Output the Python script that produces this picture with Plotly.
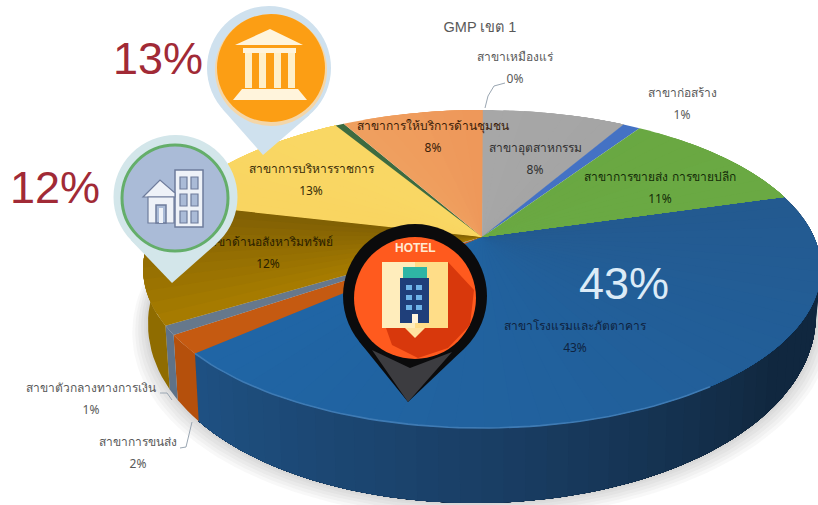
import numpy as np
import plotly.graph_objects as go

# ---------- data ----------
categories = ["สาขาโรงแรมและภัตตาคาร", "สาขาการขนส่ง", "สาขาตัวกลางทางการเงิน",
              "สาขาด้านอสังหาริมทรัพย์", "สาขาการบริหารราชการ", "สาขาเหมืองแร่",
              "สาขาการให้บริการด้านชุมชน", "สาขาอุตสาหกรรม", "สาขาก่อสร้าง",
              "สาขาการขายส่ง การขายปลีก"]
values = [43.0, 1.9, 0.9, 12.4, 12.7, 0.5, 8.2, 8.3, 1.0, 11.2]
percent_labels = ["43%", "2%", "1%", "12%", "13%", "0%", "8%", "8%", "1%", "11%"]
top_start = ["#245A90", "#C55A11", "#66788C", "#A87D00", "#F9D561", "#3D6B40", "#F0A060", "#A8A8A8", "#4472C4", "#6AA842"]
top_end = ["#2066A6", "#C55A11", "#66788C", "#806005", "#FAD865", "#3D6B40", "#EE985A", "#A5A5A5", "#4472C4", "#6AAA44"]
label_colors = ["#0F2340", "#595959", "#595959", "#2A2000", "#3A2E08", "#595959", "#3A2008", "#303030", "#595959", "#142C08"]
label_xy = [(575, 327), (138, 443), (91, 389), (268, 243), (311, 170), (515, 58), (433, 127), (535, 149), (682, 94), (660, 178)]
big_labels = [("13%", 158, 58, "#A12A36"), ("12%", 55, 187, "#A12A36"), ("43%", 624, 283, "#DCEBF7")]
title_text = "GMP เขต 1"

# ---------- projection of the pie ----------
CX, CY, A, B, K = 482, 237, 332, 152.6, 0.201
START = -16.1
W, H = 818, 505


def top(t):
    t = np.radians(t)
    X, Y = np.cos(t), np.sin(t)
    d = 1 - K * Y
    return CX + A * X / d, CY + B * Y / d


def low(t, grow=0.0):
    x, y = top(t)
    r = np.radians(t)
    X, Y = np.cos(r), np.sin(r)
    return x - 5 * X + grow * X, y + 43.5 + 31.5 * Y - 4.5 * X + grow * (0.6 + 0.4 * Y)


def hex2rgb(c):
    return np.array([int(c[i:i + 2], 16) for i in (1, 3, 5)], float)


def mix(c1, c2, f):
    v = hex2rgb(c1) * (1 - f) + hex2rgb(c2) * f
    return "rgb(%d,%d,%d)" % tuple(v)


fig = go.Figure()


def poly(xs, ys, color, lw=0.0):
    fig.add_trace(go.Scatter(x=list(xs), y=list(ys), mode="lines", fill="toself", fillcolor=color,
                             line=dict(color=color, width=lw), hoverinfo="skip", showlegend=False))


total = sum(values)
edges = START + np.concatenate([[0], np.cumsum(values)]) / total * 360

# soft shadow below the body
ts = np.linspace(-5, 200, 120)
for g in (16, 13, 10, 7, 4, 2):
    xs, ys = zip(*[low(t, g) for t in ts])
    poly(list(xs), list(ys), "rgba(90,90,100,0.045)")

# side wall: each strip reaches to the slice end, later strips paint over it
side_stops = {0: ([-20, 40, 90, 140], ["#10263F", "#11283F", "#1A3F66", "#1F5284"]),
              1: ([0, 400], ["#B5500C", "#B5500C"]), 2: ([0, 400], ["#5E7288", "#5E7288"]),
              3: ([0, 400], ["#8F6C00", "#8F6C00"])}
for i in range(4):
    a, b = edges[i], min(edges[i + 1], 200)
    n = max(1, int((b - a) / 3)) if i == 0 else 1
    tt = np.linspace(a, b, n + 1)
    sx, sc = side_stops[i]
    rgb = np.array([hex2rgb(c) for c in sc])
    for j in range(n):
        m = (tt[j] + tt[j + 1]) / 2
        col = "rgb(%d,%d,%d)" % tuple(np.interp(m, sx, rgb[:, k]) for k in range(3))
        arc = np.linspace(tt[j], b, max(2, int((b - tt[j]) / 2) + 2))
        tx, ty = top(arc)
        bot = [low(t) for t in arc[::-1]]
        poly(list(tx) + [q[0] for q in bot], list(ty) + [q[1] for q in bot], col)

# top face
for i in range(len(values)):
    a, b = edges[i], edges[i + 1]
    n = max(1, int((b - a) / 4)) if top_start[i] != top_end[i] else 1
    tt = np.linspace(a, b, n + 1)
    for j in range(n):
        arc = np.linspace(tt[j], b, max(4, int((b - tt[j]) / 2) + 2))
        xs, ys = top(arc)
        col = mix(top_start[i], top_end[i], (j + 0.5) / n)
        poly([CX] + list(xs), [CY] + list(ys), col)

# rim highlight on the first slice
arc = np.linspace(55, edges[1], 60)
xs, ys = top(arc)
fig.add_trace(go.Scatter(x=xs, y=ys, mode="lines", line=dict(color="#3F7BB4", width=1.6),
                         hoverinfo="skip", showlegend=False))

# leader lines
for lx, ly in [([485, 488, 494, 505], [108, 96, 86, 83]), ([160, 167, 172], [393, 393, 400]), ([180, 186, 192], [448, 447, 422])]:
    fig.add_trace(go.Scatter(x=lx, y=ly, mode="lines", line=dict(color="#9aa6b2", width=1),
                             hoverinfo="skip", showlegend=False))

# slice labels (as chart text, so that the pins can cover them)
for c, p, col, (x, y) in zip(categories, percent_labels, label_colors, label_xy):
    fig.add_trace(go.Scatter(x=[x, x], y=[y, y + 22], mode="text", text=[c, p],
                             textposition="middle center",
                             textfont=dict(family="Noto Sans, DejaVu Sans, sans-serif", size=12, color=col),
                             hoverinfo="skip", showlegend=False))
fig.add_trace(go.Scatter(x=[480], y=[28], mode="text", text=[title_text], textposition="middle center",
                         textfont=dict(family="Liberation Sans, Noto Sans, sans-serif", size=14.5, color="#595959"),
                         hoverinfo="skip", showlegend=False))

# ---------- pins ----------
shapes = []


def path(points, color, line=None, lw=0):
    d = "M" + "L".join(f"{x:.1f},{y:.1f}" for x, y in points) + "Z"
    shapes.append(dict(type="path", path=d, fillcolor=color, layer="above",
                       line=dict(color=line or color, width=lw), xref="x", yref="y"))


def circle(cx, cy, r, color, line=None, lw=0):
    shapes.append(dict(type="circle", x0=cx - r, x1=cx + r, y0=cy - r, y1=cy + r, fillcolor=color,
                       layer="above", line=dict(color=line or color, width=lw), xref="x", yref="y"))


def rect(x0, y0, x1, y1, color, line=None, lw=0):
    shapes.append(dict(type="rect", x0=x0, x1=x1, y0=y0, y1=y1, fillcolor=color, layer="above",
                       line=dict(color=line or color, width=lw), xref="x", yref="y"))


def pin(cx, cy, r, tx, ty, color):
    dx, dy = tx - cx, ty - cy
    dist = np.hypot(dx, dy)
    base = np.arctan2(dy, dx)
    off = np.arccos(r / dist)
    path([(cx + r * np.cos(base - off), cy + r * np.sin(base - off)), (tx, ty),
          (cx + r * np.cos(base + off), cy + r * np.sin(base + off))], color)
    circle(cx, cy, r, color)


# bank pin
pin(269, 68, 62, 263, 155, "#CFE1EE")
circle(271, 70, 56, "#F4D6A8")
circle(271, 68, 54, "#FC9E14")
cream = "#FFF4DC"
path([(235, 45), (270, 29), (303, 45)], cream)
rect(243, 48, 296, 53, cream)
for x in (245, 259, 274, 288):
    rect(x, 53, x + 7, 88, "#FFEFC8")
path([(233, 100), (242, 89), (298, 89), (307, 100)], cream)

# building pin
pin(175.5, 197, 62, 172, 283, "#D3E6EA")
circle(175, 198, 53, "#AABBD7", "#64AE6A", 3)
steel = "#6E7C9C"
rect(175, 170, 203, 227, "#EEF2F8", steel, 1.5)
for row in (177, 194, 211):
    for col in (180, 191):
        rect(col, row, col + 7, row + 12, "#AABBD7", steel, 1.2)
path([(143, 197), (160, 180), (175, 193), (175, 197)], "#EEF2F8", steel, 1.2)
rect(148, 197, 174, 223, "#EEF2F8", steel, 1.2)
rect(156, 205, 166, 223, "#AABBD7", steel, 1.5)
rect(159, 208, 163, 223, "#EEF2F8")

# hotel pin
pin(415, 296, 72, 408, 402, "#0B0B0C")
path([(372, 350), (408, 402), (452, 352), (410, 368)], "#3C3C40")
circle(415, 298, 61, "#FF5A1E")
path([(448, 262), (474, 290), (470, 325), (448, 348), (418, 358), (392, 345), (386, 328), (448, 328)], "#D8380C")
rect(382, 262, 448, 328, "#FFEDBC")
rect(415, 262, 448, 328, "#FFDD88")
path([(405, 328), (425, 328), (415, 338)], "#FFE3A0")
rect(403, 267, 427, 278, "#2FB5A5")
rect(400, 278, 429, 323, "#1F3F7A")
for wy in (285, 295, 305):
    for wx in (406, 416):
        rect(wx, wy, wx + 6, wy + 5, "#6FB4E8")
rect(412, 314, 418, 323, "#FFF4DC")

annots = [dict(x=x, y=y, text=t, showarrow=False, xanchor="center", yanchor="middle",
               font=dict(family="Liberation Sans, Arial, sans-serif", size=45, color=c))
          for t, x, y, c in big_labels]
annots.append(dict(x=415, y=248, text="<b>HOTEL</b>", showarrow=False, xanchor="center", yanchor="middle",
                   font=dict(family="Liberation Sans, Arial, sans-serif", size=12, color="#FFE9D0")))

fig.update_layout(
    width=W, height=H, margin=dict(l=0, r=0, t=0, b=0), autosize=False,
    paper_bgcolor="white", plot_bgcolor="white", showlegend=False,
    xaxis=dict(range=[0, W], visible=False, fixedrange=True),
    yaxis=dict(range=[H, 0], visible=False, fixedrange=True),
    shapes=shapes, annotations=annots,
)
fig.write_html("out.html", config={"displayModeBar": False},
               post_script="document.body.style.margin='0';document.documentElement.style.overflow='hidden';")
